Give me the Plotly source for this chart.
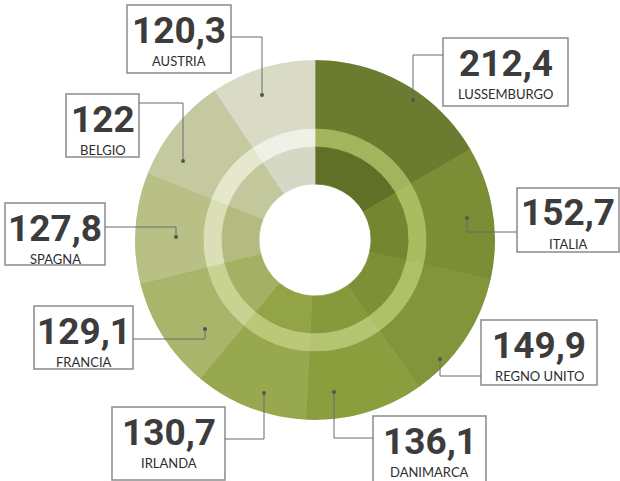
import plotly.graph_objects as go

# ---- data ----
countries = ["LUSSEMBURGO", "ITALIA", "REGNO UNITO", "DANIMARCA", "IRLANDA",
             "FRANCIA", "SPAGNA", "BELGIO", "AUSTRIA"]
values = [212.4, 152.7, 149.9, 136.1, 130.7, 129.1, 127.8, 122.0, 120.3]
value_labels = ["212,4", "152,7", "149,9", "136,1", "130,7", "129,1", "127,8", "122", "120,3"]

# ---- styles ----
outer_colors = ["#6b7b2f", "#7b8d35", "#82953a", "#8b9e3e", "#98a84e",
                "#aab56c", "#b9c085", "#c5c99f", "#d9dbc7"]
ring_colors = ["#a4b45c", "#aabb60", "#b0c068", "#b5c470", "#bac878",
               "#c9d290", "#dadfb5", "#e5e8cd", "#eff0e6"]
inner_colors = ["#617027", "#74862f", "#7d9035", "#869a3b", "#92a446",
                "#a4b064", "#b4bb80", "#c3c79c", "#d5d8c4"]

W, H = 620, 481
CX, CY, R = 315, 240, 180

# callout layout in pixels: box (x0, y0, x1, y1), elbow path points ending at the dot
callouts = {
    "LUSSEMBURGO": dict(box=(443, 38, 568, 106), path=[(443, 55), (413, 55), (413, 100)]),
    "ITALIA": dict(box=(517, 188, 619, 252), path=[(517, 232), (467, 232), (467, 218)]),
    "REGNO UNITO": dict(box=(481, 320, 597, 385), path=[(481, 376), (440, 376), (440, 359)]),
    "DANIMARCA": dict(box=(373, 416, 486, 490), path=[(373, 438), (334, 438), (334, 392)]),
    "IRLANDA": dict(box=(112, 407, 225, 480), path=[(225, 439), (264, 439), (264, 393)]),
    "FRANCIA": dict(box=(34, 306, 133, 369), path=[(133, 339), (205, 339), (205, 329)]),
    "SPAGNA": dict(box=(5, 203, 105, 265), path=[(105, 227), (176, 227), (176, 237)]),
    "BELGIO": dict(box=(66, 94, 139, 157), path=[(139, 103), (183, 103), (183, 161)]),
    "AUSTRIA": dict(box=(127, 5, 231, 73), path=[(231, 37), (262, 37), (262, 95)]),
}


def px(x):
    return x / W


def py(y):
    return 1 - y / H


total = sum(values)
widths = [v / total * 360 for v in values]
centers = []
acc = 0
for w in widths:
    centers.append(acc + w / 2)
    acc += w

fig = go.Figure()
for base, thick, cols in [(111, 69, outer_colors), (93, 18, ring_colors), (56, 37, inner_colors)]:
    fig.add_trace(go.Barpolar(
        theta=centers, width=widths, r=[thick] * len(values), base=[base] * len(values),
        marker=dict(color=cols, line=dict(width=0.8, color=cols)),
        hoverinfo="skip", showlegend=False))

shapes = []
annotations = []
for name, lab in zip(countries, value_labels):
    c = callouts[name]
    x0, y0, x1, y1 = c["box"]
    shapes.append(dict(type="rect", xref="paper", yref="paper",
                       x0=px(x0), x1=px(x1), y0=py(y1), y1=py(y0),
                       line=dict(color="#8a8a8a", width=1.5), fillcolor="white", layer="above"))
    pts = c["path"]
    for (ax, ay), (bx, by) in zip(pts[:-1], pts[1:]):
        shapes.append(dict(type="line", xref="paper", yref="paper",
                           x0=px(ax), y0=py(ay), x1=px(bx), y1=py(by),
                           line=dict(color="#6a6a6a", width=1), layer="above"))
    dx, dy = pts[-1]
    shapes.append(dict(type="circle", xref="paper", yref="paper",
                       x0=px(dx - 2), x1=px(dx + 2), y0=py(dy + 2), y1=py(dy - 2),
                       fillcolor="#555555", line=dict(width=0), layer="above"))
    xm = (x0 + x1) / 2
    annotations.append(dict(xref="paper", yref="paper", x=px(xm), y=py(y0 + 25),
                            text="<b>%s</b>" % lab, showarrow=False, xanchor="center", yanchor="middle",
                            font=dict(family="Roboto, Liberation Sans, Arial", size=37, color="#3c3c3c")))
    annotations.append(dict(xref="paper", yref="paper", x=px(xm), y=py(y0 + 56),
                            text=name, showarrow=False, xanchor="center", yanchor="middle",
                            font=dict(family="Lato, Open Sans, DejaVu Sans", size=13, color="#2e2e2e")))

fig.update_layout(
    width=W, height=H, margin=dict(l=0, r=0, t=0, b=0),
    paper_bgcolor="white", plot_bgcolor="white",
    polar=dict(
        domain=dict(x=[px(CX - R), px(CX + R)], y=[py(CY + R), py(CY - R)]),
        bgcolor="rgba(0,0,0,0)", hole=0, bargap=0,
        radialaxis=dict(range=[0, R], visible=False),
        angularaxis=dict(rotation=90, direction="clockwise", visible=False),
    ),
    shapes=shapes, annotations=annotations, showlegend=False,
)

fig.write_html("out.html")
